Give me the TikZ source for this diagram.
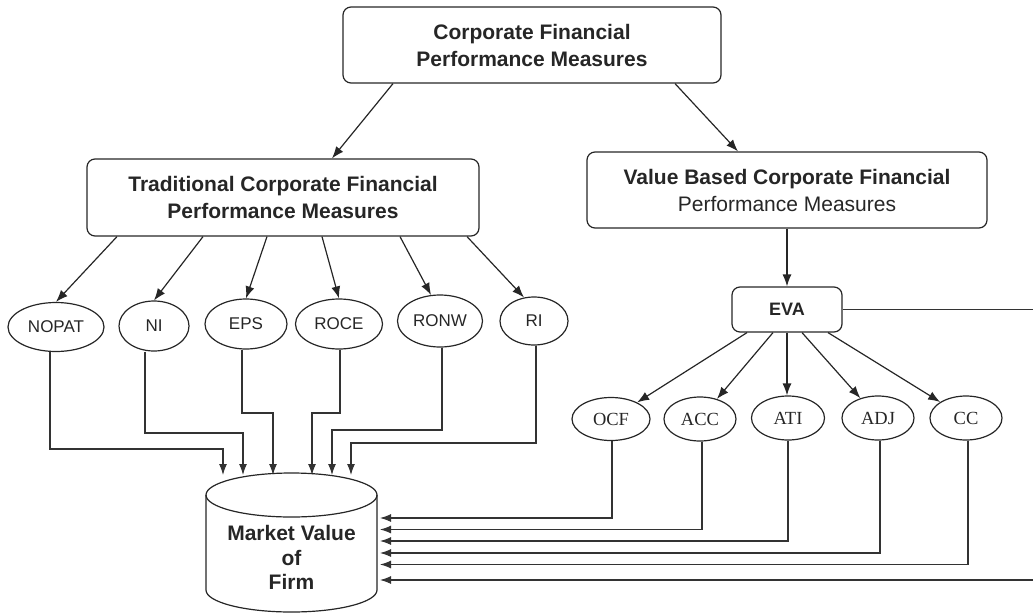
\documentclass[tikz,border=0pt]{standalone}
\usepackage{fontspec}
\setmainfont{Liberation Sans}
\newfontfamily\serifface{Liberation Serif}
\usetikzlibrary{arrows.meta,shapes.geometric}

\begin{document}
\begin{tikzpicture}[x=1pt,y=-1pt,
  ink/.style={draw=black!85, line width=1.2pt},
  arr/.style={ink, -{Latex[length=12pt,width=9pt]}},
  wire/.style={draw=black!80, line width=1.1pt, -{Latex[length=11pt,width=8pt]}},
  panel/.style={ink, rounded corners=8pt, align=center, inner sep=0pt,
    font=\fontsize{21}{27}\selectfont\bfseries, text=black!85},
  oval/.style={ellipse, ink, inner sep=0pt, font=\fontsize{17}{19}\selectfont, text=black!85},
  soval/.style={oval, font=\serifface\fontsize{18.5}{20}\selectfont}]

\useasboundingbox (0,0) rectangle (1033,613);

% boxes
\node[panel, minimum width=378pt, minimum height=76pt] (cfpm) at (532,45)
  {Corporate Financial\\Performance Measures};
\node[panel, minimum width=392pt, minimum height=77pt] (trad) at (283,197.5)
  {Traditional Corporate Financial\\Performance Measures};
\node[panel, minimum width=400pt, minimum height=76pt] (vbm) at (787,190)
  {Value Based Corporate Financial\\{\mdseries Performance Measures}};
\node[panel, minimum width=110pt, minimum height=45pt,
  font=\fontsize{18}{20}\selectfont\bfseries] (eva) at (787,309.5) {EVA};

% traditional measures
\node[oval, minimum width=96pt, minimum height=49pt] (nopat) at (56,327) {NOPAT};
\node[oval, minimum width=70pt, minimum height=50pt] (ni) at (154,326) {NI};
\node[oval, minimum width=82pt, minimum height=50pt] (eps) at (246,324) {EPS};
\node[oval, minimum width=87pt, minimum height=50pt] (roce) at (339,324) {ROCE};
\node[oval, minimum width=85pt, minimum height=52pt] (ronw) at (440,321) {RONW};
\node[oval, minimum width=68pt, minimum height=48pt] (ri) at (534,321) {RI};

% EVA components
\node[soval, minimum width=78pt, minimum height=43pt] (ocf) at (611,419) {OCF};
\node[soval, minimum width=72pt, minimum height=44pt] (acc) at (700,419) {ACC};
\node[soval, minimum width=73pt, minimum height=44pt] (ati) at (788,418) {ATI};
\node[soval, minimum width=72pt, minimum height=44pt] (adj) at (878,418) {ADJ};
\node[soval, minimum width=72pt, minimum height=44pt] (cc) at (966,418) {CC};

% market value cylinder
\draw[ink, fill=white] (206,495) -- (206,590)
  .. controls (206,602.15) and (244.3,612) .. (291.5,612)
  .. controls (338.7,612) and (377,602.15) .. (377,590) -- (377,495);
\draw[ink] (291.5,495) ellipse[x radius=85.5, y radius=22];
\node[font=\fontsize{21}{24.5}\selectfont\bfseries, align=center, text=black!85]
  (mv) at (291.5,557.5) {Market Value\\of\\Firm};

% entry points on the cylinder
\coordinate (in1) at (223,475);
\coordinate (in2) at (243,475);
\coordinate (in3) at (273,475);
\coordinate (in4) at (312,475);
\coordinate (in5) at (332,475);
\coordinate (in6) at (351,475);
\coordinate (in7) at (380,518);
\coordinate (in8) at (380,529.5);
\coordinate (in9) at (380,541);
\coordinate (in10) at (380,553);
\coordinate (in11) at (380,564.5);
\coordinate (in12) at (380,580);

% hierarchy arrows
\draw[arr] ([xshift=-139pt]cfpm.south) -- ([xshift=49pt]trad.north);
\draw[arr] ([xshift=143pt]cfpm.south) -- ([xshift=-49pt]vbm.north);
\draw[arr] ([xshift=-166pt]trad.south) -- (nopat.north);
\draw[arr] ([xshift=-80pt]trad.south) -- (ni.north);
\draw[arr] ([xshift=-16pt]trad.south) -- (eps.north);
\draw[arr] ([xshift=39pt]trad.south) -- (roce.north);
\draw[arr] ([xshift=117pt]trad.south) -- (ronw.109);
\draw[arr] ([xshift=184pt]trad.south) -- (ri.113);
\draw[arr] (vbm.south) -- (eva.north);
\draw[arr] ([xshift=-40pt]eva.south) -- (ocf);
\draw[arr] ([xshift=-14pt]eva.south) -- (acc);
\draw[arr] (eva.south) -- (eva.south |- ati.north);
\draw[arr] ([xshift=15pt]eva.south) -- (adj);
\draw[arr] ([xshift=41pt]eva.south) -- (cc);

% links into the market value
\draw[wire] ([xshift=-6pt]nopat.south) |- (223,449) -- (in1);
\draw[wire] ([xshift=-9pt]ni.south) |- (243,433) -- (in2);
\draw[wire] ([xshift=-4pt]eps.south) |- (273,413) -- (in3);
\draw[wire] ([xshift=1pt]roce.south) |- (312,413) -- (in4);
\draw[wire] ([xshift=2pt]ronw.south) |- (332,430) -- (in5);
\draw[wire] ([xshift=2pt]ri.south) |- (351,443) -- (in6);
\draw[wire] ([xshift=1pt]ocf.south) |- (in7);
\draw[wire] ([xshift=2pt]acc.south) |- (in8);
\draw[wire] (ati.south) |- (in9);
\draw[wire] ([xshift=2pt]adj.south) |- (in10);
\draw[wire] ([xshift=2pt]cc.south) |- (in11);
\draw[wire] (eva.east) -- (1037,309.5) |- (in12);
\end{tikzpicture}
\end{document}
